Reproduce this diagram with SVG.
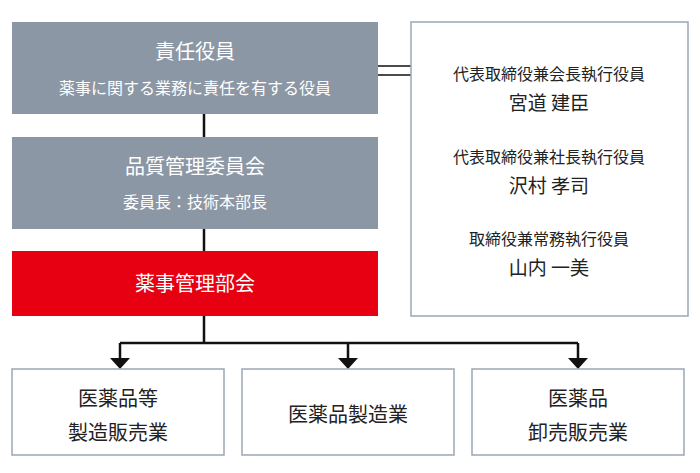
<svg xmlns="http://www.w3.org/2000/svg" width="700" height="473" viewBox="0 0 700 473">
<style>
.g{fill:#8c97a5}
.w{fill:#fff;stroke:#9aa6b5;stroke-width:1.5}
text{font-family:"Noto Sans CJK JP",sans-serif;text-anchor:middle}
.tw{fill:#fff}
.tk{fill:#222}
.ln{stroke:#111;stroke-width:2.5;fill:none}
</style>
<defs><marker id="a" markerWidth="8" markerHeight="6" refX="8" refY="3" orient="auto" markerUnits="strokeWidth"><path d="M0,0L8,3L0,6z" fill="#111"/></marker></defs>
<g id="connectors">
<path class="ln" d="M204,114V137M204,229V251M204,316V343M120,343H578"/>
<path class="ln" d="M120,343V359M348,343V359M578,343V359"/>
<path d="M110,358h20l-10,11z M338,358h20l-10,11z M568,358h20l-10,11z" fill="#111"/>
<path stroke="#111" stroke-width="1.5" d="M378,66H411M378,75H411"/>
</g>
<g id="n1"><rect class="g" x="12" y="22" width="366" height="92"/>
<text class="tw" x="195" y="59" font-size="20">責任役員</text>
<text class="tw" x="195" y="94" font-size="16">薬事に関する業務に責任を有する役員</text></g>
<g id="n2"><rect class="g" x="12" y="137" width="366" height="92"/>
<text class="tw" x="195" y="174" font-size="20">品質管理委員会</text>
<text class="tw" x="195" y="208" font-size="16">委員長：技術本部長</text></g>
<g id="n3"><rect fill="#e60012" x="12" y="251" width="366" height="65"/>
<text class="tw" x="195" y="291" font-size="20">薬事管理部会</text></g>
<g id="n4"><rect class="w" x="411" y="22" width="277" height="294"/>
<g class="tk"><text x="549" y="80" font-size="16">代表取締役兼会長執行役員</text>
<text x="549" y="110" font-size="19">宮道 建臣</text>
<text x="549" y="163" font-size="16">代表取締役兼社長執行役員</text>
<text x="549" y="193" font-size="19">沢村 孝司</text>
<text x="549" y="245" font-size="16">取締役兼常務執行役員</text>
<text x="549" y="275" font-size="19">山内 一美</text></g></g>
<g id="b1"><rect class="w" x="12" y="369" width="212" height="86"/>
<text class="tk" x="118" y="406" font-size="20">医薬品等</text><text class="tk" x="118" y="440" font-size="20">製造販売業</text></g>
<g id="b2"><rect class="w" x="242" y="369" width="212" height="86"/>
<text class="tk" x="348" y="422" font-size="20">医薬品製造業</text></g>
<g id="b3"><rect class="w" x="472" y="369" width="212" height="86"/>
<text class="tk" x="578" y="406" font-size="20">医薬品</text><text class="tk" x="578" y="440" font-size="20">卸売販売業</text></g>
</svg>
